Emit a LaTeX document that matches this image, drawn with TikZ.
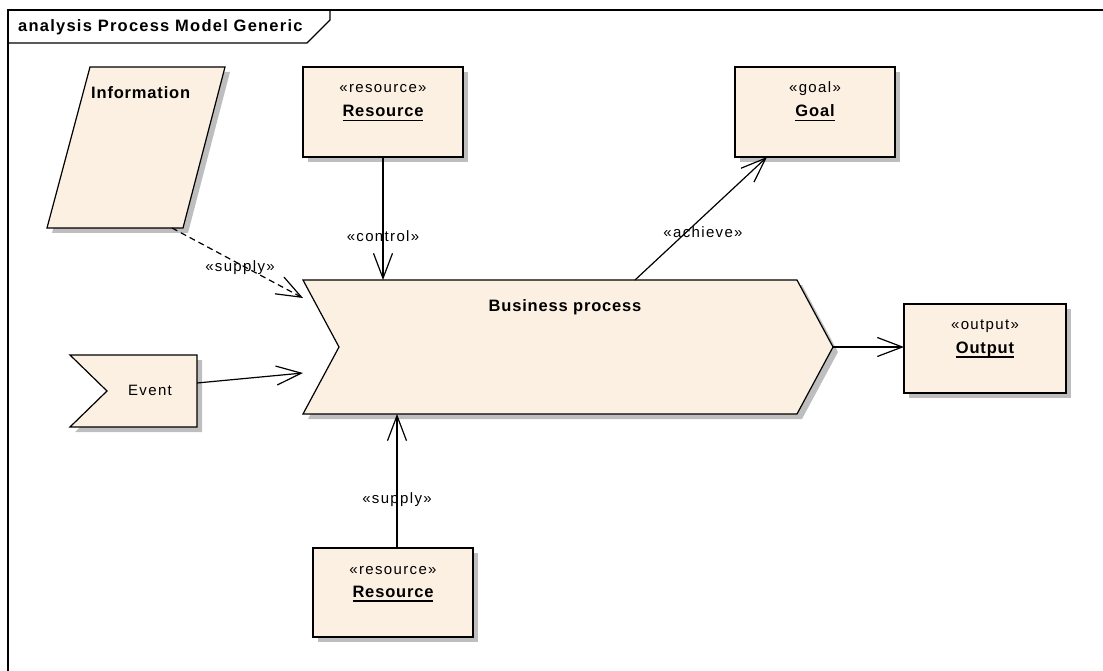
\documentclass[tikz,border=0pt]{standalone}
\usepackage{fontspec}
\setmainfont{Liberation Sans}
\newfontfamily\stereofont[LetterSpace=9]{Liberation Sans}
\newfontfamily\namefont[LetterSpace=5]{Liberation Sans}
\newfontfamily\titlefont[LetterSpace=7.5]{Liberation Sans}
\usetikzlibrary{arrows.meta,shadows}
\definecolor{elemfill}{RGB}{251,240,226}
\definecolor{shadegray}{RGB}{190,190,190}

% bold element name with a heavy underline
\newcommand\ulname[1]{\setbox0=\hbox{#1}\rlap{\rule[-4.5pt]{\wd0}{1.4pt}}\box0}

\begin{document}
\begin{tikzpicture}[x=1pt,y=-1pt,
  elem/.style={draw=black, line width=1.2pt, line join=miter, fill=elemfill,
    drop shadow={shadow xshift=5pt, shadow yshift=-5pt, fill=shadegray, opacity=1}},
  box/.style={elem, rectangle, inner sep=0pt, outer sep=0pt, anchor=north west},
  stereo/.style={font=\stereofont\fontsize{15}{18}\selectfont, inner sep=0pt, anchor=base},
  elname/.style={font=\namefont\bfseries\fontsize{16.5}{20}\selectfont, inner sep=0pt, anchor=base},
  lbl/.style={font=\stereofont\fontsize{15}{18}\selectfont, inner sep=0pt, anchor=base},
  link/.style={line width=1.2pt, -{Straight Barb[length=25pt,width=19pt]}},
]
\useasboundingbox (0,0) rectangle (1103,671);

% diagram frame and its name tab
\draw[line width=1.3pt] (8,671) -- (8,10) -- (1103,10);
\draw[line width=1.3pt] (8,43) -- (307,43) -- (330,20) -- (330,10);
\node[font=\titlefont\bfseries\fontsize{16.5}{20}\selectfont, inner sep=0pt, anchor=base west] (title) at (18,32) {analysis Process Model Generic};

% Information object
\path[elem] (90,67) -- (225,67) -- (183,228) -- (47,228) -- cycle;
\node[elname, anchor=base west] (info) at (91,99) {Information};
\coordinate (info-out) at (172,228);

% Resource (control)
\node[box, minimum width=160pt, minimum height=90pt] (res1) at (303,67) {};
\node[stereo] (res1-st) at (383,93) {«resource»};
\node[elname] (res1-nm) at (383,117) {\ulname{Resource}};

% Goal
\node[box, minimum width=160pt, minimum height=90pt] (goal) at (735,67) {};
\node[stereo] (goal-st) at (815,93) {«goal»};
\node[elname] (goal-nm) at (815,117) {\ulname{Goal}};
\coordinate (goal-in) at (767,157);

% Business process
\path[elem] (303,280) -- (797,280) -- (833,347) -- (797,414) -- (303,414) -- (339,347) -- cycle;
\node[elname] (bp) at (565,311) {Business process};
\coordinate (bp-top) at (383,280);
\coordinate (bp-goal) at (635,280);
\coordinate (bp-info) at (303,298);
\coordinate (bp-event) at (303,373);
\coordinate (bp-tip) at (833,347);
\coordinate (bp-bottom) at (397,414);

% Event
\path[elem] (70,355) -- (197,355) -- (197,427) -- (70,427) -- (107,391) -- cycle;
\node[lbl] (event) at (150,395) {Event};
\coordinate (event-out) at (197,383);

% Output
\node[box, minimum width=162pt, minimum height=89pt] (out) at (904,304) {};
\node[stereo] (out-st) at (985,329) {«output»};
\node[elname] (out-nm) at (985,353) {\ulname{Output}};
\coordinate (out-in) at (904,347);

% Resource (supply)
\node[box, minimum width=160pt, minimum height=89pt] (res2) at (313,548) {};
\node[stereo] (res2-st) at (393,574) {«resource»};
\node[elname] (res2-nm) at (393,597) {\ulname{Resource}};
\coordinate (res2-out) at (397,548);

% connectors
\draw[link] (res1.south) -- (bp-top);
\node[lbl] (lbl-control) at (383,242) {«control»};

\draw[link, dash pattern=on 6pt off 4pt] (info-out) -- (bp-info);
\node[lbl] (lbl-supply1) at (240,272) {«supply»};

\draw[link] (bp-goal) -- (goal-in);
\node[lbl] (lbl-achieve) at (703,238) {«achieve»};

\draw[link] (event-out) -- (bp-event);
\draw[link] (bp-tip) -- (out-in);

\draw[link] (res2-out) -- (bp-bottom);
\node[lbl] (lbl-supply2) at (397,503) {«supply»};
\end{tikzpicture}
\end{document}
